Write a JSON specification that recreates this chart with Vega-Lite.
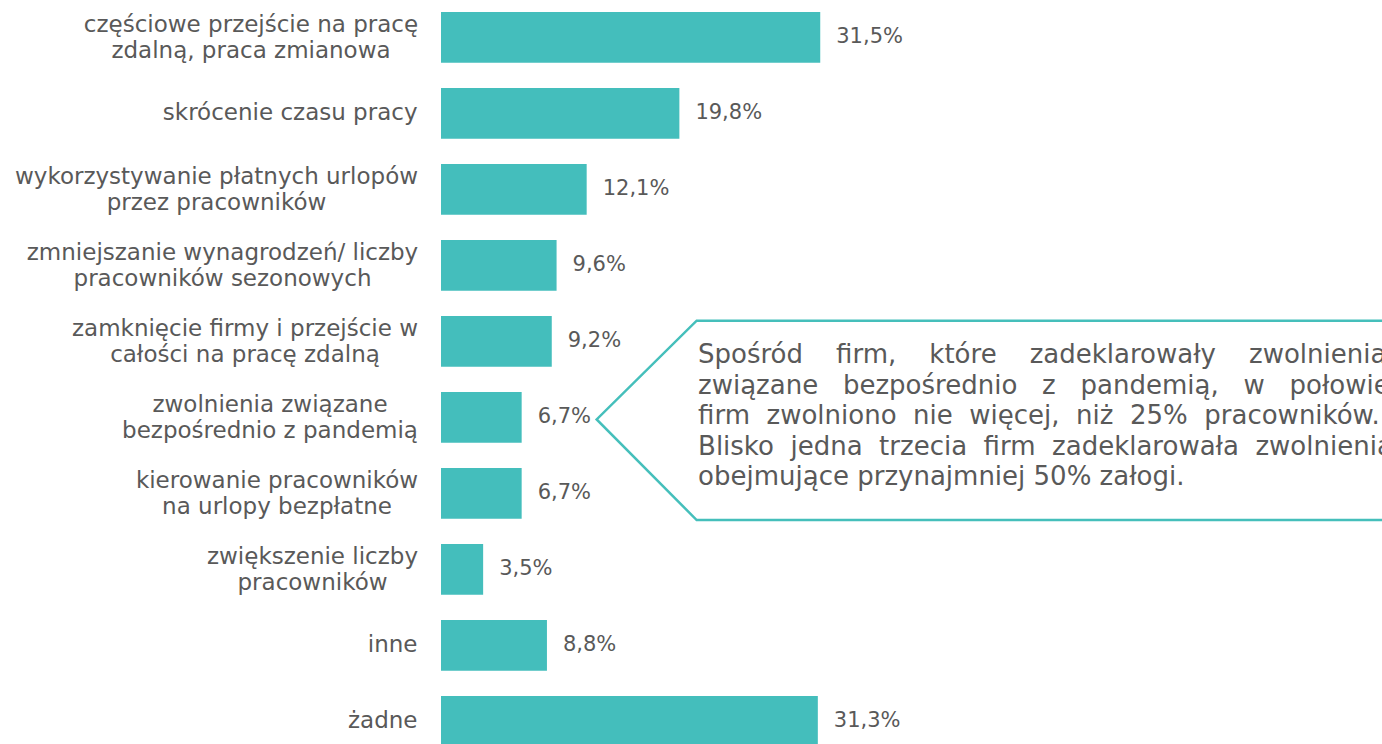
{
  "$schema": "https://vega.github.io/schema/vega-lite/v6.json",
  "width": 941,
  "height": 744,
  "autosize": {"type": "none"},
  "padding": {"left": 441, "top": 0, "right": 0, "bottom": 0},
  "background": "white",
  "config": {"view": {"stroke": null}, "font": "DejaVu Sans"},
  "datasets": {
    "bars": [
      {"cat": "częściowe przejście na pracę\nzdalną, praca zmianowa", "value": 31.5},
      {"cat": "skrócenie czasu pracy", "value": 19.8},
      {"cat": "wykorzystywanie płatnych urlopów\nprzez pracowników", "value": 12.1},
      {"cat": "zmniejszanie wynagrodzeń/ liczby\npracowników sezonowych", "value": 9.6},
      {"cat": "zamknięcie firmy i przejście w\ncałości na pracę zdalną", "value": 9.2},
      {"cat": "zwolnienia związane\nbezpośrednio z pandemią", "value": 6.7},
      {"cat": "kierowanie pracowników\nna urlopy bezpłatne", "value": 6.7},
      {"cat": "zwiększenie liczby\npracowników", "value": 3.5},
      {"cat": "inne", "value": 8.8},
      {"cat": "żadne", "value": 31.3}
    ],
    "callout": [
      {"i": 0, "x": 95, "row": 3.728},
      {"i": 1, "x": 21.235, "row": 3.728},
      {"i": 2, "x": 12.93, "row": 5.028},
      {"i": 3, "x": 21.235, "row": 6.351},
      {"i": 4, "x": 95, "row": 6.351}
    ],
    "note": [
      {"text": "Spośród\u00a0\u00a0\u00a0\u00a0firm,\u00a0\u00a0\u00a0\u00a0które\u00a0\u00a0\u00a0\u00a0zadeklarowały\u00a0\u00a0\u00a0\u00a0zwolnienia\nzwiązane\u00a0\u00a0\u00a0bezpośrednio\u00a0\u00a0\u00a0z\u00a0\u00a0\u00a0pandemią,\u00a0\u00a0\u00a0w\u00a0\u00a0\u00a0połowie\nfirm\u00a0\u00a0zwolniono\u00a0\u00a0nie\u00a0\u00a0więcej,\u00a0\u00a0niż\u00a0\u00a025%\u00a0\u00a0pracowników.\nBlisko\u00a0\u00a0jedna\u00a0\u00a0trzecia\u00a0\u00a0firm\u00a0\u00a0zadeklarowała\u00a0\u00a0zwolnienia\nobejmujące przynajmniej 50% załogi."}
    ]
  },
  "layer": [
    {
      "data": {"name": "bars"},
      "transform": [
        {"calculate": "replace(format(datum.value, '.1f'), '.', ',') + '%'", "as": "label"}
      ],
      "encoding": {
        "y": {
          "field": "cat",
          "type": "nominal",
          "sort": null,
          "scale": {"range": [12, 746.7], "paddingInner": 0.333, "paddingOuter": 0},
          "axis": {
            "title": null,
            "domain": false,
            "ticks": false,
            "labelPadding": {
              "condition": [
                {"test": "indexof(datum.value, 'częściowe') >= 0", "value": 190.5},
                {"test": "indexof(datum.value, 'wykorzystywanie') >= 0", "value": 225},
                {"test": "indexof(datum.value, 'zmniejszanie') >= 0", "value": 219},
                {"test": "indexof(datum.value, 'zamknięcie') >= 0", "value": 196.5},
                {"test": "indexof(datum.value, 'bezpośrednio') >= 0", "value": 171.5},
                {"test": "indexof(datum.value, 'kierowanie') >= 0", "value": 164.5},
                {"test": "indexof(datum.value, 'zwiększenie') >= 0", "value": 129}
              ],
              "value": 24
            },
            "labelAlign": {
              "condition": {"test": "indexof(datum.value, '\\n') >= 0", "value": "center"},
              "value": "right"
            },
            "labelOffset": {
              "condition": {"test": "indexof(datum.value, '\\n') >= 0", "value": -12},
              "value": 0
            },
            "labelFont": "DejaVu Sans",
            "labelFontSize": 23,
            "labelColor": "#595959",
            "labelLimit": 0,
            "labelLineHeight": 26,
            "labelExpr": "split(datum.label, '\\n')"
          }
        },
        "x": {
          "field": "value",
          "type": "quantitative",
          "scale": {"domain": [0, 78.16], "nice": false, "zero": true},
          "axis": null
        }
      },
      "layer": [
        {"mark": {"type": "bar", "color": "#44BEBC"}},
        {
          "mark": {"type": "text", "align": "left", "baseline": "middle", "dx": 16, "fontSize": 21, "color": "#595959", "font": "DejaVu Sans"},
          "encoding": {"text": {"field": "label", "type": "nominal"}}
        }
      ]
    },
    {
      "data": {"name": "callout"},
      "mark": {"type": "line", "stroke": "#45BFBB", "strokeWidth": 2.5, "strokeJoin": "miter"},
      "encoding": {
        "x": {"field": "x", "type": "quantitative", "scale": {"domain": [0, 78.16], "nice": false, "zero": false}, "axis": null},
        "y": {"field": "row", "type": "quantitative", "scale": {"domain": [-0.4914, 9.298], "reverse": true, "nice": false, "zero": false}, "axis": null},
        "order": {"field": "i", "type": "quantitative"}
      }
    },
    {
      "data": {"name": "note"},
      "mark": {"type": "text", "align": "left", "baseline": "alphabetic", "fontSize": 26, "lineHeight": 30.5, "lineBreak": "\n", "color": "#595959", "font": "DejaVu Sans"},
      "encoding": {
        "x": {"datum": 21.35, "type": "quantitative", "scale": {"domain": [0, 78.16], "nice": false, "zero": false}, "axis": null},
        "y": {"datum": 4.289, "type": "quantitative", "scale": {"domain": [-0.4914, 9.298], "reverse": true, "nice": false, "zero": false}, "axis": null},
        "text": {"field": "text", "type": "nominal"}
      }
    }
  ],
  "resolve": {"scale": {"x": "independent", "y": "independent"}}
}
